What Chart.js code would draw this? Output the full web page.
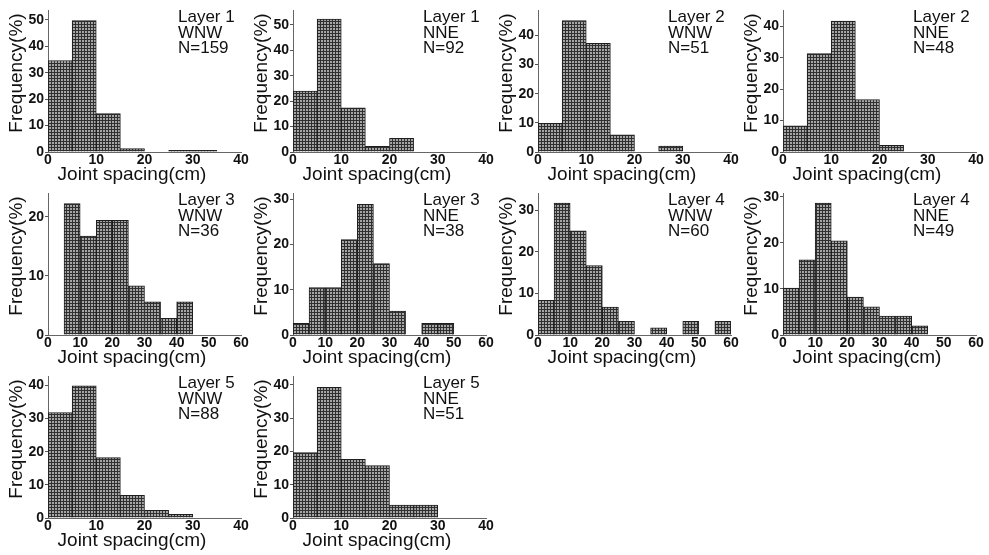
<!DOCTYPE html>
<html>
<head>
<meta charset="utf-8">
<script src="https://cdn.jsdelivr.net/npm/chart.js@4/dist/chart.umd.min.js"></script>
<style>
html,body{margin:0;padding:0;background:#fff;}
body{width:989px;height:555px;position:relative;overflow:hidden;}
.p{position:absolute;width:256px;height:185px;}
.p canvas{display:block;}
</style>
</head>
<body>
<div class="p" style="left:0px;top:0px"><canvas id="c0" width="256" height="185"></canvas></div>
<div class="p" style="left:245px;top:0px"><canvas id="c1" width="256" height="185"></canvas></div>
<div class="p" style="left:490px;top:0px"><canvas id="c2" width="256" height="185"></canvas></div>
<div class="p" style="left:735px;top:0px"><canvas id="c3" width="256" height="185"></canvas></div>
<div class="p" style="left:0px;top:183px"><canvas id="c4" width="256" height="185"></canvas></div>
<div class="p" style="left:245px;top:183px"><canvas id="c5" width="256" height="185"></canvas></div>
<div class="p" style="left:490px;top:183px"><canvas id="c6" width="256" height="185"></canvas></div>
<div class="p" style="left:735px;top:183px"><canvas id="c7" width="256" height="185"></canvas></div>
<div class="p" style="left:0px;top:366px"><canvas id="c8" width="256" height="185"></canvas></div>
<div class="p" style="left:245px;top:366px"><canvas id="c9" width="256" height="185"></canvas></div>
<script>
// ---------- data ----------
const layers = ["Layer 1","Layer 1","Layer 2","Layer 2","Layer 3","Layer 3","Layer 4","Layer 4","Layer 5","Layer 5"];
const directions = ["WNW","NNE","WNW","NNE","WNW","NNE","WNW","NNE","WNW","NNE"];
const sampleSizes = [159, 92, 51, 48, 36, 38, 60, 49, 88, 51];

// bin lower edges (cm), bin width 5 cm
const binStarts40 = [0, 5, 10, 15, 20, 25, 30, 35];
const binStarts60 = [0, 5, 10, 15, 20, 25, 30, 35, 40, 45, 50, 55];
const binWidth = 5;

// frequency (%) per bin
const freqL1WNW = [34.6, 49.7, 14.5, 1.3, 0, 0.6, 0.6, 0];
const freqL1NNE = [23.9, 52.2, 17.4, 2.2, 5.4, 0, 0, 0];
const freqL2WNW = [9.8, 45.1, 37.3, 5.9, 0, 2.0, 0, 0];
const freqL2NNE = [8.3, 31.3, 41.7, 16.7, 2.1, 0, 0, 0];
const freqL3WNW = [0, 22.2, 16.7, 19.4, 19.4, 8.3, 5.6, 2.8, 5.6, 0, 0, 0];
const freqL3NNE = [2.6, 10.5, 10.5, 21.1, 28.9, 15.8, 5.3, 0, 2.6, 2.6, 0, 0];
const freqL4WNW = [8.3, 31.7, 25.0, 16.7, 6.7, 3.3, 0, 1.7, 0, 3.3, 0, 3.3];
const freqL4NNE = [10.2, 16.3, 28.6, 20.4, 8.2, 6.1, 4.1, 4.1, 2.0, 0, 0, 0];
const freqL5WNW = [31.8, 39.8, 18.2, 6.8, 2.3, 1.1, 0, 0];
const freqL5NNE = [19.6, 39.2, 17.6, 15.7, 3.9, 3.9, 0, 0];

const panelFreqs = [freqL1WNW, freqL1NNE, freqL2WNW, freqL2NNE, freqL3WNW, freqL3NNE, freqL4WNW, freqL4NNE, freqL5WNW, freqL5NNE];
const panelBins  = [binStarts40, binStarts40, binStarts40, binStarts40, binStarts60, binStarts60, binStarts60, binStarts60, binStarts40, binStarts40];

// axis extents and ticks
const xAxisMax = [40, 40, 40, 40, 60, 60, 60, 60, 40, 40];
const yAxisMax = [53.7, 55.8, 48.7, 45.2, 24.0, 31.4, 34.1, 30.8, 42.8, 42.6];
const tickStep = 10;
const xTitle = "Joint spacing(cm)";
const yTitle = "Frequency(%)";

// ---------- style ----------
const FONT = '"Liberation Sans", Arial, Helvetica, sans-serif';
const INK = '#111';

function meshPattern(ctx) {
  const c = document.createElement('canvas');
  c.width = 3; c.height = 3;
  const g = c.getContext('2d');
  g.fillStyle = '#a6a6a6'; g.fillRect(0, 0, 3, 3);
  g.fillStyle = '#303030'; g.fillRect(0, 0, 3, 1); g.fillRect(0, 0, 1, 3);
  return ctx.createPattern(c, 'repeat');
}

const labelsPlugin = {
  id: 'panelText',
  afterDraw(chart, args, opts) {
    const ctx = chart.ctx;
    const a = chart.chartArea;
    ctx.save();
    ctx.fillStyle = INK;
    // annotation block
    ctx.font = '17px ' + FONT;
    ctx.textAlign = 'left';
    ctx.textBaseline = 'alphabetic';
    opts.lines.forEach((t, i) => ctx.fillText(t, a.left + 130, a.top + 12 + i * 15.5));
    // x title
    ctx.font = '19px ' + FONT;
    ctx.textAlign = 'center';
    ctx.textBaseline = 'middle';
    ctx.fillText(xTitle, a.left + 84, a.bottom + 23);
    // y title
    ctx.translate(17, a.top + 63);
    ctx.rotate(-Math.PI / 2);
    ctx.fillText(yTitle, 0, 0);
    ctx.restore();
  }
};

panelFreqs.forEach((freqs, i) => {
  const canvas = document.getElementById('c' + i);
  const ctx = canvas.getContext('2d');
  const pts = panelBins[i].map((b, k) => ({ x: b + binWidth / 2, y: freqs[k] }));
  new Chart(ctx, {
    type: 'bar',
    data: {
      datasets: [{
        data: pts,
        backgroundColor: meshPattern(ctx),
        borderColor: '#1e1e1e',
        borderWidth: 1,
        borderSkipped: 'bottom',
        barPercentage: 1,
        categoryPercentage: 1
      }]
    },
    options: {
      responsive: false,
      maintainAspectRatio: false,
      animation: false,
      devicePixelRatio: 1,
      layout: { padding: { left: 0, right: 15, top: 10, bottom: 0 } },
      plugins: {
        legend: { display: false },
        tooltip: { enabled: false },
        panelText: { lines: [layers[i], directions[i], 'N=' + sampleSizes[i]] }
      },
      scales: {
        x: {
          type: 'linear',
          offset: false,
          min: 0,
          max: xAxisMax[i],
          afterFit: s => { s.height = 33; },
          border: { display: true, color: '#666', width: 1 },
          grid: { display: false, drawTicks: false, offset: false },
          ticks: { stepSize: tickStep, padding: 0, maxRotation: 0, color: INK,
                   font: { family: FONT, size: 14, weight: 'bold' } }
        },
        y: {
          min: 0,
          max: yAxisMax[i],
          afterFit: s => { s.width = 48; },
          border: { display: true, color: '#666', width: 1 },
          grid: { display: true, drawOnChartArea: false, drawTicks: true, tickLength: 3, color: '#555' },
          ticks: { stepSize: tickStep, includeBounds: false, padding: 1, color: INK,
                   font: { family: FONT, size: 14, weight: 'bold' } }
        }
      }
    },
    plugins: [labelsPlugin]
  });
});
</script>
</body>
</html>
